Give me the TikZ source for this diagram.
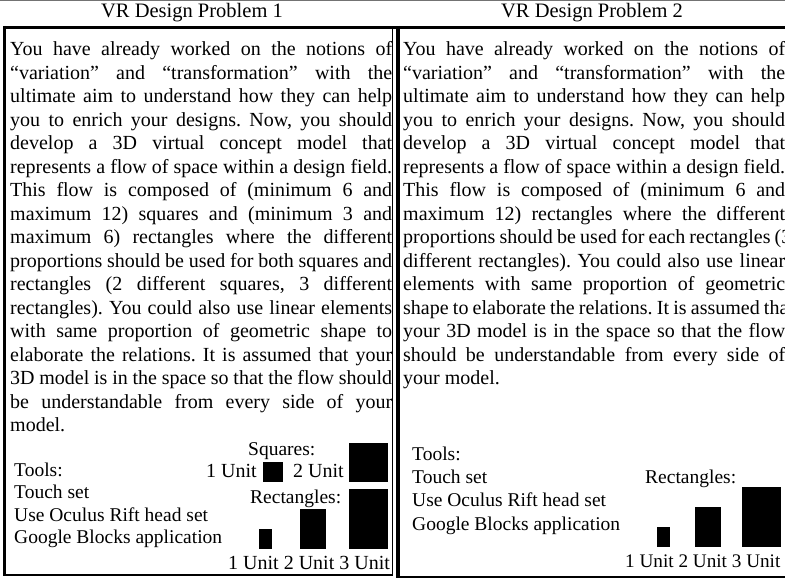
\documentclass[tikz,border=0pt]{standalone}
\usepackage{fontspec}
\setmainfont{Liberation Serif}
\newcommand\jline[1]{\hbox to 382pt{#1}}
\newcommand\bodysetup{\fontsize{20}{23.5}\selectfont\frenchspacing\spaceskip=5pt plus 60pt minus 0.8pt\relax\hbadness=10000\hfuzz=50pt}
\begin{document}
\begin{tikzpicture}[x=1pt,y=-1pt,
  title/.style={inner sep=0, font=\fontsize{20.5}{24}\selectfont, anchor=base},
  body/.style={inner sep=0, anchor=base west, font=\fontsize{20}{23.5}\selectfont},
  lbl/.style={inner sep=0, anchor=base west, font=\fontsize{19.5}{23}\selectfont},
  unitlbl/.style={inner sep=0, anchor=base west, font=\fontsize{20}{23}\selectfont},
  blk/.style={fill=black, draw=none, inner sep=0, anchor=north west},
  frame/.style={line width=#1, black},
]
\useasboundingbox (0,0) rectangle (785,578);
\clip (0,0) rectangle (785,578);

% frame lines
\draw[black!55, line width=1] (0,0.5) -- (785,0.5);
\draw[frame=3] (3,27.5) -- (785,27.5);
\draw[frame=2.5] (4.25,26) -- (4.25,576);
\draw[frame=2.5] (3,575) -- (393.3,575);
\draw[frame=1] (392.8,27) -- (392.8,575);
\draw[frame=4] (398,26) -- (398,578);
\draw[frame=2.5] (396,577) -- (785,577);

% titles
\node[title] (t1) at (192,18) {VR Design Problem 1};
\node[title] (t2) at (592,18) {VR Design Problem 2};

% left text
\node[body] (p1) at (10,56) {\bodysetup\vtop{%
\jline{You have already worked on the notions of}%
\jline{“variation” and “transformation” with the}%
\jline{ultimate aim to understand how they can help}%
\jline{you to enrich your designs. Now, you should}%
\jline{develop a 3D virtual concept model that}%
\jline{represents a flow of space within a design field.}%
\jline{This flow is composed of (minimum 6 and}%
\jline{maximum 12) squares and (minimum 3 and}%
\jline{maximum 6) rectangles where the different}%
\jline{proportions should be used for both squares and}%
\jline{rectangles (2 different squares, 3 different}%
\jline{rectangles). You could also use linear elements}%
\jline{with same proportion of geometric shape to}%
\jline{elaborate the relations. It is assumed that your}%
\jline{3D model is in the space so that the flow should}%
\jline{be understandable from every side of your}%
\hbox{model.}}};

% right text
\node[body] (p2) at (403,56) {\bodysetup\vtop{%
\jline{You have already worked on the notions of}%
\jline{“variation” and “transformation” with the}%
\jline{ultimate aim to understand how they can help}%
\jline{you to enrich your designs. Now, you should}%
\jline{develop a 3D virtual concept model that}%
\jline{represents a flow of space within a design field.}%
\jline{This flow is composed of (minimum 6 and}%
\jline{maximum 12) rectangles where the different}%
\jline{proportions should be used for each rectangles (3}%
\jline{different rectangles). You could also use linear}%
\jline{elements with same proportion of geometric}%
\jline{shape to elaborate the relations. It is assumed that}%
\jline{your 3D model is in the space so that the flow}%
\jline{should be understandable from every side of}%
\hbox{your model.}}};

% left tools
\node[lbl] (lt1) at (14,476.5) {Tools:};
\node[lbl] (lt2) at (14,498.5) {Touch set};
\node[lbl] (lt3) at (14,521) {Use Oculus Rift head set};
\node[lbl] (lt4) at (14,543.5) {Google Blocks application};

% right tools
\node[lbl] (rt1) at (412,460) {Tools:};
\node[lbl] (rt2) at (412,483) {Touch set};
\node[lbl] (rt3) at (412,506.5) {Use Oculus Rift head set};
\node[lbl] (rt4) at (412,530) {Google Blocks application};

% left shapes
\node[lbl] (sqt) at (248,455) {Squares:};
\node[unitlbl] (su1) at (206,477) {1 Unit};
\node[blk, minimum width=20pt, minimum height=20pt] (sq1) at (263,462) {};
\node[unitlbl] (su2) at (293,477) {2 Unit};
\node[blk, minimum width=39pt, minimum height=39pt] (sq2) at (349,443) {};
\node[lbl] (rct) at (250,503) {Rectangles:};
\node[blk, minimum width=13pt, minimum height=20pt] (r1) at (259,529) {};
\node[blk, minimum width=26pt, minimum height=40pt] (r2) at (300,509) {};
\node[blk, minimum width=39pt, minimum height=60pt] (r3) at (349,489) {};
\node[unitlbl] (ru) at (228,569) {1 Unit 2 Unit 3 Unit};

% right shapes
\node[lbl] (rct2) at (645,483) {Rectangles:};
\node[blk, minimum width=13pt, minimum height=20pt] (R1) at (657,527) {};
\node[blk, minimum width=26pt, minimum height=40pt] (R2) at (695,507) {};
\node[blk, minimum width=39pt, minimum height=60pt] (R3) at (742,487) {};
\node[unitlbl, font=\fontsize{19.2}{23}\selectfont] (Ru) at (625,567) {1 Unit 2 Unit 3 Unit};
\end{tikzpicture}
\end{document}
